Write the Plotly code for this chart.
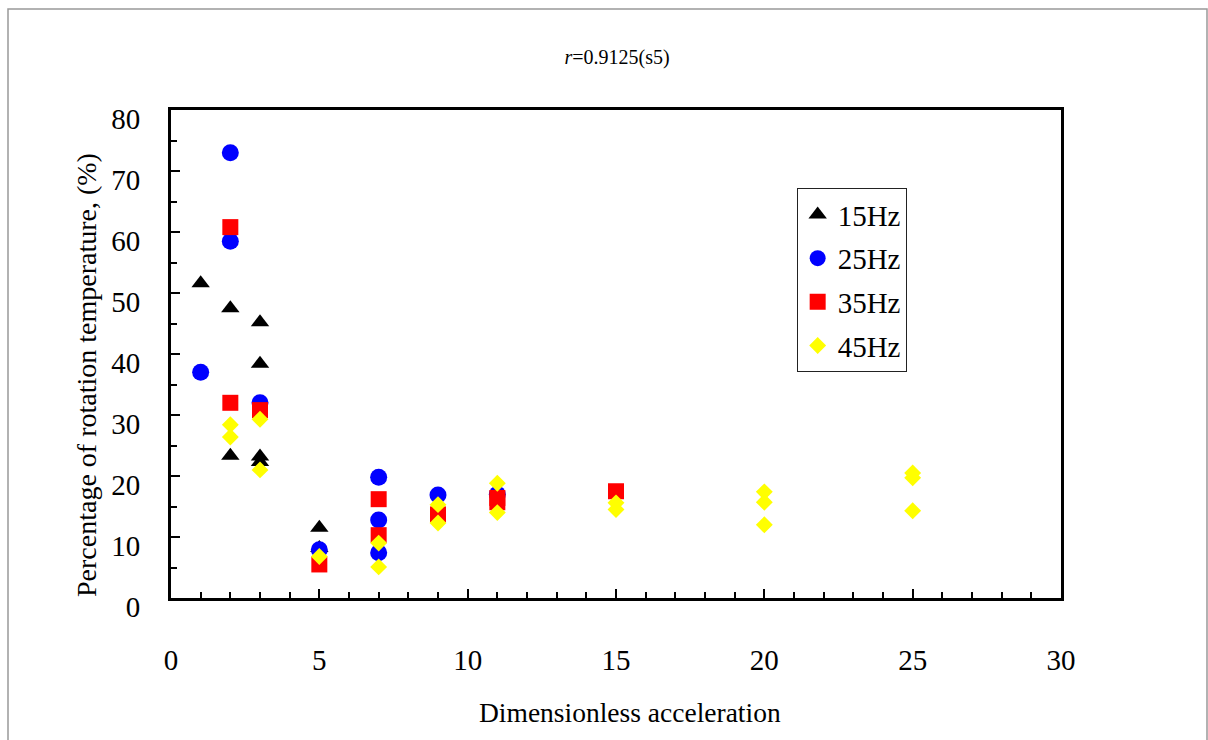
import plotly.graph_objects as go

# ---- data ----
x_15 = [1, 2, 2, 3, 3, 3, 3, 5, 5]
y_15 = [51.6, 47.5, 23.3, 45.2, 38.4, 23.2, 22.3, 11.5, 8.2]

x_25 = [1, 2, 2, 3, 5, 7, 7, 7, 9, 11]
y_25 = [37.0, 73.0, 58.5, 32.0, 7.9, 19.8, 12.8, 7.4, 16.9, 17.0]

x_35 = [2, 2, 3, 5, 7, 7, 9, 11, 11, 15]
y_35 = [60.8, 32.0, 30.8, 5.5, 16.2, 10.3, 13.7, 16.4, 15.7, 17.5]

x_45 = [2, 2, 3, 3, 5, 7, 7, 9, 9, 11, 11, 15, 15, 20, 20, 20, 25, 25, 25]
y_45 = [28.4, 26.4, 29.3, 21.0, 6.8, 9.0, 5.1, 15.3, 12.3, 18.8, 14.0,
        15.6, 14.5, 17.4, 15.7, 12.0, 20.5, 19.7, 14.3]

series_names = ["15Hz", "25Hz", "35Hz", "45Hz"]
x_title = "Dimensionless acceleration"
y_title = "Percentage of rotation temperature, (%)"

FONT = "Liberation Serif"

fig = go.Figure()
specs = [
    (x_15, y_15, "triangle-up", "black", 16),
    (x_25, y_25, "circle", "#0000FF", 17),
    (x_35, y_35, "square", "#FF0000", 16),
    (x_45, y_45, "diamond", "#FFFF00", 13),
]
for name, (xs, ys, sym, col, sz) in zip(series_names, specs):
    fig.add_trace(go.Scatter(
        x=xs, y=ys, mode="markers", name=name, legendgroup=name,
        marker=dict(symbol=sym, color=col, size=sz, line=dict(width=0)),
    ))

fig.update_layout(
    width=1208, height=740,
    margin=dict(l=171, r=147, t=110, b=142),
    paper_bgcolor="white", plot_bgcolor="white",
    font=dict(family=FONT, color="black", size=28),
    title=dict(text="<i>r</i>=0.9125(s5)", x=(617 - 171) / 890, xref="paper",
               xanchor="center",
               y=1 - 57 / 740, yanchor="middle",
               font=dict(family=FONT, size=20, color="black")),
    showlegend=True,
    legend=dict(x=0.703, y=0.84, xanchor="left", yanchor="top",
                bordercolor="#222", borderwidth=1, bgcolor="white",
                font=dict(family=FONT, size=29), tracegroupgap=3,
                itemwidth=30),
)

fig.update_xaxes(
    range=[0, 30], tick0=0, dtick=5, showgrid=False, zeroline=False,
    showline=True, linecolor="black", linewidth=3, mirror=True,
    ticks="inside", ticklen=9, tickwidth=2, tickcolor="black",
    ticklabelstandoff=34,
    minor=dict(dtick=1, ticks="inside", ticklen=6, tickwidth=2, tickcolor="black", showgrid=False),
    tickfont=dict(family=FONT, size=29),
)
fig.update_yaxes(
    range=[0, 80], tick0=0, dtick=10, showgrid=False, zeroline=False,
    showline=True, linecolor="black", linewidth=3, mirror=True,
    ticks="inside", ticklen=9, tickwidth=2, tickcolor="black",
    ticklabelstandoff=22, ticklabelshift=9,
    minor=dict(dtick=5, ticks="inside", ticklen=6, tickwidth=2, tickcolor="black", showgrid=False),
    tickfont=dict(family=FONT, size=29),
)

# axis titles placed as in the reference
fig.add_annotation(text=x_title, xref="paper", yref="paper",
                   x=(630 - 171) / 890, y=(598 - 712) / 488,
                   xanchor="center", yanchor="middle", showarrow=False,
                   font=dict(family=FONT, size=27.5, color="black"))
fig.add_annotation(text=y_title, xref="paper", yref="paper",
                   x=(86 - 171) / 890, y=(598 - 375) / 488, textangle=-90,
                   xanchor="center", yanchor="middle", showarrow=False,
                   font=dict(family=FONT, size=28, color="black"))

# outer gray frame of the chart
fig.add_shape(type="rect", xref="paper", yref="paper",
              x0=(8 - 171) / 890, x1=(1207 - 171) / 890,
              y0=(598 - 760) / 488, y1=(598 - 9) / 488,
              line=dict(color="#999999", width=1.5), layer="below")

fig.write_html("out.html")
